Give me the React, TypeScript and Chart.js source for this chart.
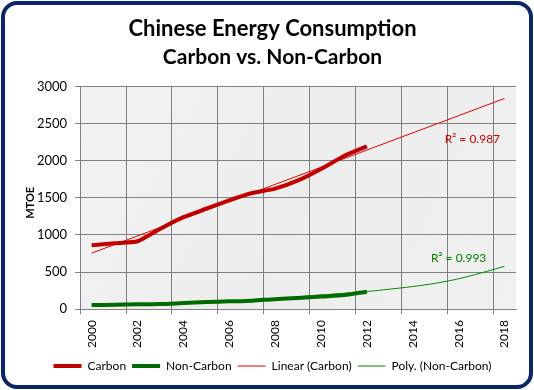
import React, { useEffect, useRef } from "react";
import { Chart, registerables } from "chart.js";
Chart.register(...registerables);

const years = ["2000","2001","2002","2003","2004","2005","2006","2007","2008","2009","2010","2011","2012","2013","2014","2015","2016","2017","2018"];
const carbon = [863, 889, 915, 1085, 1240, 1355, 1467, 1565, 1625, 1735, 1890, 2065, 2195];
const nonCarbon = [55, 60, 65, 68, 82, 95, 105, 115, 135, 150, 170, 190, 235];
const linearCarbon: (number | null)[] = [755, null, null, null, null, null, null, null, null, null, null, null, null, null, null, null, null, null, 2840];
const polyNonCarbon = [60, 58, 62, 70, 80, 93, 108, 125, 145, 167, 190, 213, 238, 270, 305, 350, 410, 490, 578];
const yMin = 0;
const yMax = 3000;
const yStep = 500;
const yAxisTitle = "MTOE";
const rSquaredLabels = [
  { text: "R\u00B2 = 0.987", color: "#d00000", x: 16.6, y: 2290 },
  { text: "R\u00B2 = 0.993", color: "#007a00", x: 16.0, y: 693 },
];

const FONT = "Lato, 'Open Sans', sans-serif";

const plotBg = {
  id: "plotBg",
  beforeDraw(chart: any) {
    const { ctx, chartArea } = chart;
    if (!chartArea) return;
    ctx.save();
    const g = ctx.createLinearGradient(chartArea.left, chartArea.top, chartArea.right, chartArea.bottom);
    g.addColorStop(0, "#f2f2f2");
    g.addColorStop(0.5, "#ededed");
    g.addColorStop(1, "#f0f0f0");
    ctx.fillStyle = g;
    ctx.fillRect(chartArea.left, chartArea.top, chartArea.right - chartArea.left, chartArea.bottom - chartArea.top);
    ctx.restore();
  },
};

const extraText = {
  id: "extraText",
  afterDatasetsDraw(chart: any) {
    const { ctx, chartArea } = chart;
    const xs = chart.scales.x;
    const ys = chart.scales.y;
    ctx.save();
    ctx.font = `12px ${FONT}`;
    ctx.textAlign = "center";
    ctx.textBaseline = "middle";
    for (const l of rSquaredLabels) {
      ctx.fillStyle = l.color;
      ctx.fillText(l.text, xs.getPixelForValue(l.x), ys.getPixelForValue(l.y));
    }
    ctx.restore();
    ctx.save();
    ctx.font = `bold 11px ${FONT}`;
    ctx.fillStyle = "#000";
    ctx.textAlign = "center";
    ctx.textBaseline = "middle";
    ctx.translate(chartArea.left - 49.5, (chartArea.top + chartArea.bottom) / 2 + 5);
    ctx.rotate(-Math.PI / 2);
    ctx.fillText(yAxisTitle, 0, 0);
    ctx.restore();
  },
};

export default function App() {
  const ref = useRef<HTMLCanvasElement>(null);
  useEffect(() => {
    document.body.style.margin = "0";
    const chart = new Chart(ref.current!, {
      type: "line",
      data: {
        labels: years,
        datasets: [
          { label: "Carbon", data: carbon, borderColor: "#c00000", backgroundColor: "#c00000", borderWidth: 4, pointRadius: 0, pointStyle: "line", tension: 0.2 },
          { label: "Non-Carbon", data: nonCarbon, borderColor: "#006b00", backgroundColor: "#006b00", borderWidth: 4, pointRadius: 0, pointStyle: "line", tension: 0.3 },
          { label: "Linear (Carbon)", data: linearCarbon, borderColor: "#e00000", backgroundColor: "#e00000", borderWidth: 1, pointRadius: 0, pointStyle: "line", spanGaps: true },
          { label: "Poly. (Non-Carbon)", data: polyNonCarbon, borderColor: "#008a00", backgroundColor: "#008a00", borderWidth: 1, pointRadius: 0, pointStyle: "line", tension: 0.4 },
        ],
      },
      options: {
        animation: false,
        responsive: false,
        layout: { padding: { left: 29, right: 18, top: 5, bottom: 8 } },
        plugins: {
          tooltip: { enabled: false },
          title: {
            display: true,
            text: "Chinese Energy Consumption",
            color: "#000",
            font: { family: FONT, size: 22, weight: "bold" },
            padding: { top: 11, bottom: 2 },
          },
          subtitle: {
            display: true,
            text: "Carbon vs. Non-Carbon",
            color: "#000",
            font: { family: FONT, size: 21, weight: "bold" },
            padding: { top: 0, bottom: 17 },
          },
          legend: {
            position: "bottom",
            labels: {
              usePointStyle: true,
              pointStyleWidth: 28,
              color: "#000",
              font: { family: FONT, size: 12 },
              padding: 6,
            },
          },
        },
        scales: {
          x: {
            type: "category",
            offset: true,
            grid: {
              offset: true,
              color: (c: any) => (c.index % 2 === 0 || c.index === years.length ? "#808080" : "rgba(0,0,0,0)"),
              tickLength: 5,
            },
            border: { color: "#808080" },
            ticks: {
              autoSkip: false,
              maxRotation: 90,
              minRotation: 90,
              color: "#000",
              font: { family: FONT, size: 12 },
              padding: 6,
              callback: (_v: any, i: number) => (i % 2 === 0 ? years[i] : ""),
            },
          },
          y: {
            min: yMin,
            max: yMax,
            grid: { color: "#808080", tickLength: 5 },
            border: { color: "#808080" },
            ticks: { stepSize: yStep, color: "#000", font: { family: FONT, size: 13 }, padding: 8, callback: (v: any) => String(v) },
          },
        },
      },
      plugins: [plotBg, extraText],
    } as any);
    return () => chart.destroy();
  }, []);
  return (
    <div style={{ position: "relative", width: 534, height: 390, background: "#fff" }}>
      <canvas ref={ref} width={534} height={390} style={{ position: "absolute", left: 0, top: 0 }} />
      <div
        style={{
          position: "absolute",
          left: 1,
          top: 1,
          width: 532,
          height: 388,
          boxSizing: "border-box",
          border: "4px solid #0b2668",
          borderRadius: 16,
          pointerEvents: "none",
        }}
      />
    </div>
  );
}
